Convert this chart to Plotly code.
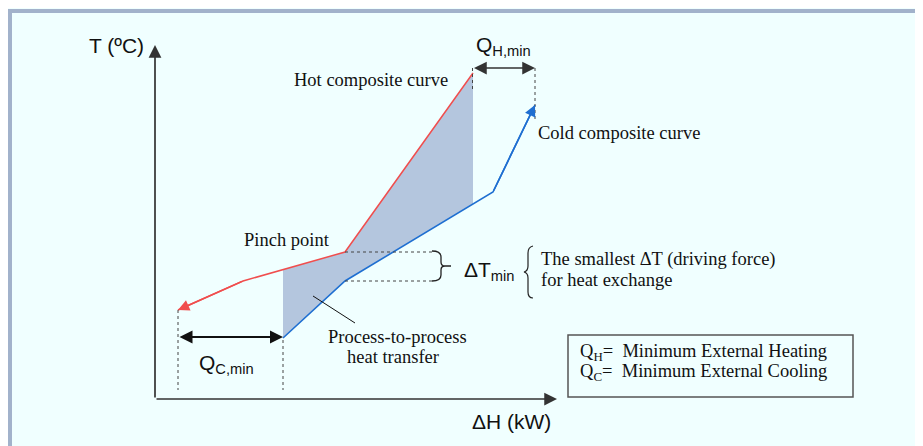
import numpy as np
import plotly.graph_objects as go

# ---- data (schematic composite curves; H in kW-like units, T in degC-like units) ----
hot_H = [23, 88, 190, 318]
hot_T = [89, 118, 147, 326]
cold_H = [128, 190, 338, 380]
cold_T = [61, 118, 207, 294]

# page offset of the figure (browser body margin)
OX, OY = 8, 8
FW, FH = 923 - OX, 446 - OY


def H(px):
    return px - 155


def T(py):
    return 399 - py


SANS = "Liberation Sans, Arial, sans-serif"
SERIF = "Liberation Serif, Times New Roman, serif"
RED = "#f04e4e"
BLUE = "#1f6fd1"

fig = go.Figure()

# shaded process-to-process region
h0, h1 = cold_H[0], hot_H[-1]
hot_in = [(h, t) for h, t in zip(hot_H, hot_T) if h0 < h < h1]
cold_in = [(h, t) for h, t in zip(cold_H, cold_T) if h0 < h < h1]
poly_H = [h0] + [p[0] for p in hot_in] + [h1, h1] + [p[0] for p in cold_in[::-1]] + [h0]
poly_T = ([float(np.interp(h0, hot_H, hot_T))] + [p[1] for p in hot_in] + [hot_T[-1],
          float(np.interp(h1, cold_H, cold_T))] + [p[1] for p in cold_in[::-1]] + [cold_T[0]])
fig.add_trace(go.Scatter(x=poly_H, y=poly_T, mode="lines", fill="toself",
                         fillcolor="#b4c6de", line=dict(width=0), hoverinfo="skip"))
fig.add_trace(go.Scatter(x=hot_H, y=hot_T, mode="lines", line=dict(color=RED, width=1.5)))
fig.add_trace(go.Scatter(x=cold_H, y=cold_T, mode="lines", line=dict(color=BLUE, width=1.6)))

shapes = []
# frame border
shapes.append(dict(type="rect", xref="x", yref="y", x0=H(8), x1=H(12), y0=T(9), y1=T(446),
                   line=dict(width=0), fillcolor="#a2b2cb", layer="below"))
shapes.append(dict(type="rect", xref="x", yref="y", x0=H(8), x1=H(923), y0=T(9), y1=T(13),
                   line=dict(width=0), fillcolor="#a2b2cb", layer="below"))


def dline(x0, y0, x1, y1, dash="dot", color="#444", width=1):
    shapes.append(dict(type="line", xref="x", yref="y", x0=H(x0), y0=T(y0), x1=H(x1), y1=T(y1),
                       line=dict(color=color, width=width, dash=dash)))


dline(178, 310, 178, 390)
dline(283, 340, 283, 390)
dline(472.5, 68, 472.5, 92)
dline(535, 68, 535, 120)
dline(345, 252, 432, 252)
dline(345, 281, 432, 281)
dline(313, 296, 355, 323, dash="solid", color="#111", width=1)


def pth(cmds):
    out = []
    for c in cmds:
        if isinstance(c, str):
            out.append(c)
        else:
            out.append(f"{H(c[0])},{T(c[1])}")
    return " ".join(out)


# right brace for delta T min
shapes.append(dict(type="path", xref="x", yref="y", line=dict(color="#222", width=1.3),
                   path=pth(["M", (432, 251), "Q", (441, 251), (441, 257), "L", (441, 262),
                             "Q", (441, 266), (445, 266), "Q", (441, 266), (441, 270),
                             "L", (441, 275), "Q", (441, 281), (432, 281),
                             "M", (445, 266), "L", (451, 266)])))
# left brace for description
shapes.append(dict(type="path", xref="x", yref="y", line=dict(color="#222", width=1.2),
                   path=pth(["M", (533, 246), "Q", (528, 247), (528, 253), "L", (528, 266),
                             "Q", (528, 271), (524, 272), "Q", (528, 273), (528, 278),
                             "L", (528, 292), "Q", (528, 298), (533, 298)])))
# legend box
shapes.append(dict(type="rect", xref="x", yref="y", x0=H(568), x1=H(853), y0=T(335), y1=T(397),
                   line=dict(color="#555", width=1.5)))

ann = []


def arrow(x, y, ax, ay, color, width, size, side="end"):
    ann.append(dict(x=x, y=y, ax=ax, ay=ay, xref="x", yref="y", axref="x", ayref="y",
                    text="", showarrow=True, arrowhead=2, arrowsize=size, arrowwidth=width,
                    arrowcolor=color, arrowside=side, startarrowhead=2, startarrowsize=size,
                    standoff=0, startstandoff=0))


# axes
arrow(H(155), T(45), H(155), T(399), "#333", 1.7, 1.5)
arrow(H(557), T(399), H(155), T(399), "#333", 1.7, 1.5)
# curve ends
arrow(hot_H[0], hot_T[0], hot_H[1], hot_T[1], RED, 1.5, 1.5)
arrow(cold_H[-1], cold_T[-1], cold_H[-2], cold_T[-2], BLUE, 1.6, 1.4)
# Q arrows
arrow(H(535), T(68), H(472.5), T(68), "#333", 1.5, 1.7, side="end+start")
arrow(H(283), T(337), H(178), T(337), "#111", 2, 1.3, side="end+start")


def txt(s, px, py, font, size, xanchor="left", yanchor="middle", color="#111"):
    ann.append(dict(x=H(px), y=T(py), xref="x", yref="y", text=s, showarrow=False,
                    xanchor=xanchor, yanchor=yanchor, font=dict(family=font, size=size, color=color)))


txt("T (ºC)", 146, 45, SANS, 21, xanchor="right")
txt("ΔH (kW)", 511, 421, SANS, 21, xanchor="center")
txt("Q<sub>H,min</sub>", 503, 46, SANS, 21, xanchor="center")
txt("Q<sub>C,min</sub>", 226, 364, SANS, 21, xanchor="center")
txt("ΔT<sub>min</sub>", 462, 271, SANS, 21)
txt("Hot composite curve", 292, 80, SERIF, 18.5)
txt("Cold composite curve", 536, 133, SERIF, 18.5)
txt("Pinch point", 242, 240, SERIF, 18.5)
txt("Process-to-process", 397, 337, SERIF, 18.5, xanchor="center")
txt("heat transfer", 393, 357, SERIF, 18.5, xanchor="center")
txt("The smallest ΔT (driving force)", 539, 259, SERIF, 18.5)
txt("for heat exchange", 539, 280, SERIF, 18.5)
txt("Q<sub>H</sub>=  Minimum External Heating", 578, 352, SERIF, 18.5)
txt("Q<sub>C</sub>=  Minimum External Cooling", 578, 372, SERIF, 18.5)

fig.update_layout(
    width=FW, height=FH, margin=dict(l=0, r=0, t=0, b=0),
    paper_bgcolor="#f0ffff", plot_bgcolor="rgba(0,0,0,0)", showlegend=False,
    xaxis=dict(visible=False, range=[H(OX), H(923)], fixedrange=True),
    yaxis=dict(visible=False, range=[T(446), T(OY)], fixedrange=True),
    shapes=shapes, annotations=ann,
)
fig.write_html("out.html")
